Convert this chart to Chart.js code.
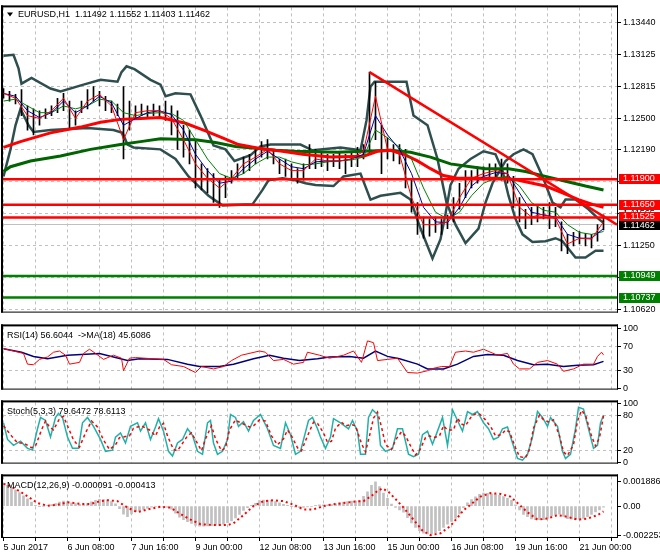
<!DOCTYPE html>
<html>
<head>
<meta charset="utf-8">
<title>EURUSD H1</title>
<script src="https://cdn.jsdelivr.net/npm/chart.js@4.4.1/dist/chart.umd.min.js"></script>
<style>
  body { margin: 0; background: #fff; }
  #wrap { position: relative; width: 660px; height: 560px; overflow: hidden; }
  #wrap canvas { position: absolute; left: 0; }
</style>
</head>
<body>
<div id="wrap">
  <canvas id="mainChart" width="660" height="319" style="top:0"></canvas>
  <canvas id="rsiChart" width="660" height="77" style="top:319px"></canvas>
  <canvas id="stochChart" width="660" height="75" style="top:395px"></canvas>
  <canvas id="macdChart" width="660" height="91" style="top:469px"></canvas>
</div>
<script>
// time axis: one step = one H1 bar, bar 0 = 5 Jun 2017 00:00
const timeLabels = ["5 Jun 2017", "6 Jun 08:00", "7 Jun 16:00", "9 Jun 00:00", "12 Jun 08:00",
  "13 Jun 16:00", "15 Jun 00:00", "16 Jun 08:00", "19 Jun 16:00", "21 Jun 00:00"];
const gridBars = Array.from({length: 20}, (_, k) => k * 16);

const priceTicks = [1.13440, 1.13125, 1.12815, 1.12500, 1.12190, 1.11875, 1.11565, 1.11250, 1.10935, 1.10620];
const redLevels = [1.11900, 1.11650, 1.11525];
const greenLevels = [1.10949, 1.10737];
const lastPrice = 1.11462;

// high / low, one bar every 3 hours
const barHigh = [1.12793,1.12765,1.12736,1.12784,1.12622,1.12594,1.12575,1.12594,1.12622,1.12698,
  1.12746,1.12670,1.12575,1.12670,1.12784,1.12812,1.12765,1.12717,1.12670,1.12641,
  1.12812,1.12670,1.12622,1.12641,1.12622,1.12641,1.12622,1.12670,1.12622,1.12575,
  1.12432,1.12385,1.12290,1.12052,1.12005,1.11957,1.11910,1.11929,1.11986,1.12052,
  1.12119,1.12147,1.12195,1.12271,1.12290,1.12195,1.12100,1.12100,1.12052,1.12005,
  1.12052,1.12242,1.12195,1.12176,1.12147,1.12147,1.12166,1.12147,1.12176,1.12214,
  1.12242,1.12955,1.12860,1.12432,1.12309,1.12242,1.12242,1.12195,1.11910,1.11672,
  1.11530,1.11511,1.11530,1.11511,1.11549,1.11720,1.11862,1.11986,1.11986,1.12024,
  1.12024,1.12052,1.12052,1.12100,1.12052,1.11929,1.11720,1.11606,1.11625,1.11644,
  1.11625,1.11672,1.11625,1.11482,1.11359,1.11378,1.11387,1.11368,1.11359,1.11454,
  1.11552];
const barLow = [1.12698,1.12670,1.12641,1.12527,1.12385,1.12337,1.12432,1.12499,1.12527,1.12556,
  1.12575,1.12404,1.12432,1.12556,1.12594,1.12670,1.12622,1.12575,1.12556,1.12527,
  1.12100,1.12385,1.12499,1.12527,1.12508,1.12527,1.12508,1.12480,1.12337,1.12195,
  1.12119,1.12052,1.11815,1.11796,1.11767,1.11672,1.11625,1.11720,1.11862,1.11910,
  1.11957,1.11986,1.12052,1.12119,1.12100,1.12052,1.11957,1.11929,1.11910,1.11862,
  1.11891,1.12005,1.12005,1.12024,1.11986,1.12024,1.12005,1.11957,1.12024,1.12024,
  1.12100,1.12147,1.12290,1.11957,1.12100,1.12081,1.12052,1.11815,1.11577,1.11359,
  1.11321,1.11340,1.11378,1.11359,1.11416,1.11482,1.11606,1.11720,1.11815,1.11862,
  1.11891,1.11891,1.11910,1.11891,1.11862,1.11625,1.11482,1.11416,1.11454,1.11482,
  1.11511,1.11416,1.11435,1.11197,1.11169,1.11245,1.11264,1.11245,1.11226,1.11292,
  1.11403];

// thin moving averages, one value every 6 bars
const maFast = [1.12746,1.12698,1.12527,1.12499,1.12575,1.12698,1.12499,1.12670,1.12736,1.12622,
  1.12290,1.12556,1.12575,1.12575,1.12499,1.12290,1.12052,1.11910,1.11815,1.11910,
  1.12052,1.12119,1.12195,1.12052,1.11986,1.11986,1.12100,1.12081,1.12081,1.12100,
  1.12176,1.12717,1.12195,1.12147,1.11720,1.11454,1.11454,1.11482,1.11720,1.11910,
  1.11957,1.11986,1.11957,1.11625,1.11530,1.11559,1.11511,1.11264,1.11321,1.11312,1.11482];
const maMid = [1.12746,1.12717,1.12575,1.12508,1.12556,1.12670,1.12556,1.12622,1.12717,1.12651,
  1.12432,1.12499,1.12556,1.12575,1.12537,1.12385,1.12147,1.11986,1.11862,1.11882,
  1.12005,1.12100,1.12176,1.12100,1.12024,1.12005,1.12072,1.12081,1.12081,1.12100,
  1.12147,1.12527,1.12337,1.12195,1.11957,1.11625,1.11482,1.11473,1.11625,1.11834,
  1.11929,1.11967,1.11957,1.11767,1.11577,1.11549,1.11530,1.11359,1.11321,1.11321,1.11416];
const maSlowThin = [1.12670,1.12689,1.12622,1.12556,1.12556,1.12622,1.12594,1.12622,1.12689,1.12670,
  1.12556,1.12527,1.12547,1.12556,1.12547,1.12480,1.12290,1.12100,1.11957,1.11910,
  1.11957,1.12052,1.12119,1.12119,1.12072,1.12043,1.12052,1.12072,1.12081,1.12091,
  1.12119,1.12385,1.12309,1.12214,1.12100,1.11815,1.11577,1.11511,1.11577,1.11739,
  1.11862,1.11910,1.11929,1.11834,1.11672,1.11596,1.11577,1.11454,1.11378,1.11359,1.11387];

// thick moving averages [bar, price]
const maRed = [[0,1.12214],[8.5,1.12271],[23.5,1.12357],[38.5,1.12414],[48.5,1.12461],[58.5,1.12490],
  [68.5,1.12499],[78.5,1.12508],[91,1.12452],[101,1.12376],[109.5,1.12309],[117.5,1.12242],
  [127.5,1.12205],[139.5,1.12176],[149.5,1.12147],[163.5,1.12119],[180,1.12128],[187,1.12176],
  [193.5,1.12186],[200,1.12147],[207,1.12081],[213.5,1.12005],[220,1.11938],[227,1.11910],
  [241,1.11910],[251,1.11910],[257.5,1.11891],[264.5,1.11862],[271,1.11834],[279.5,1.11767],
  [287.5,1.11701],[294.5,1.11654],[300,1.11625]];
const maGreen = [[0,1.11977],[3.5,1.12024],[13.5,1.12081],[28.5,1.12129],[43.5,1.12195],[58.5,1.12242],
  [68.5,1.12271],[78.5,1.12300],[96,1.12290],[106,1.12262],[116,1.12224],[126,1.12205],
  [136,1.12186],[146,1.12176],[167,1.12166],[180,1.12176],[193.5,1.12186],[203.5,1.12166],
  [213.5,1.12119],[223.5,1.12052],[233.5,1.12024],[241,1.12005],[252.5,1.12005],[261,1.11977],
  [271,1.11929],[281,1.11882],[291,1.11834],[300,1.11796]];

// dark band lines [bar, price]
const bandA = [[0,1.13117],[5,1.13126],[7.5,1.12993],[9,1.12841],[14,1.12898],[23.5,1.12794],
  [28.5,1.12765],[40,1.12832],[48.5,1.12879],[57,1.12860],[59,1.12955],[61.5,1.13012],
  [65.5,1.12984],[73.5,1.12879],[78.5,1.12832],[81,1.12717],[86,1.12746],[93.5,1.12736],
  [98.5,1.12527],[105,1.12233],[111,1.12195],[115.5,1.12081],[123.5,1.12138],[128.5,1.12224],
  [133.5,1.12242],[148.5,1.12242],[154.5,1.12186],[168.5,1.12214],[178.5,1.12186],[181.5,1.12480],
  [183.5,1.12812],[185.5,1.12860],[201.5,1.12860],[205,1.12527],[212,1.12432],[217,1.12100],
  [221.5,1.11672],[226,1.11454],[231,1.11274],[237.5,1.11416],[241,1.11672],[244.5,1.11862],
  [251,1.12081],[255,1.12147],[260,1.12195],[264.5,1.12147],[269.5,1.11929],[274.5,1.11672],
  [278.5,1.11625],[281,1.11701],[286,1.11701],[292.5,1.11606],[297.5,1.11511],[300,1.11473]];
const bandB = [[0,1.11929],[3.5,1.12195],[6,1.12432],[8.5,1.12594],[12.5,1.12432],[15,1.12366],
  [23.5,1.12385],[42,1.12404],[55,1.12385],[59.5,1.12357],[62,1.12242],[65,1.12214],
  [78.5,1.12195],[86,1.12100],[92.5,1.11929],[97.5,1.11834],[102.5,1.11739],[109.5,1.11644],
  [124.5,1.11654],[129.5,1.11796],[132.5,1.11891],[139.5,1.11910],[146,1.11891],[151,1.11862],
  [156,1.11844],[165,1.11834],[170,1.11929],[178.5,1.11957],[183.5,1.11701],[188.5,1.11739],
  [198.5,1.11767],[203.5,1.11701],[208.5,1.11416],[214.5,1.11122],[218.5,1.11312],[221,1.11559],
  [223.5,1.11844],[227.5,1.12005],[233.5,1.12100],[240,1.12176],[246,1.12147],[249.5,1.11986],
  [252.5,1.11739],[256,1.11511],[259.5,1.11359],[264.5,1.11283],[271,1.11292],[276,1.11321],
  [279.5,1.11292],[286,1.11131],[291,1.11131],[296,1.11197],[300,1.11197]];

const trendLine = [[183, 1.12955], [306.75, 1.11454]];

// RSI(14) and its MA(18) [bar, value]
const rsiLine = [[0,67],[5,63],[10,59],[12,41],[15,40],[18,49],[22,53],[25,61],[28,63],[31,56],[33,41],
  [38,44],[40,59],[43,66],[46,59],[50,49],[55,56],[59,51],[60,30],[63,51],[66,52],[75,50],[80,49],
  [84,40],[90,37],[96,27],[99,37],[105,33],[110,37],[114,47],[119,56],[128,63],[131,61],[135,47],
  [140,49],[145,41],[150,44],[152,61],[158,56],[163,51],[170,56],[175,63],[179,44],[182,80],
  [185,77],[187,47],[192,49],[197,51],[202,27],[207,26],[212,30],[215,34],[219,37],[223,37],
  [226,61],[231,63],[235,61],[240,66],[247,56],[252,59],[255,41],[258,33],[263,33],[267,44],
  [272,47],[277,41],[280,29],[285,33],[290,41],[295,41],[297,54],[299,61],[300,56.6]];
const rsiMa = [[0,67],[9,61],[15,54],[22,50],[32,56],[48,59],[62,47],[68,50],[82,49],[92,41],[98,37],
  [108,37],[115,41],[125,50],[133,56],[140,51],[148,47],[157,50],[163,53],[173,54],[180,51],
  [186,63],[192,54],[198,50],[207,41],[212,33],[220,33],[227,41],[235,54],[242,57],[250,56],
  [257,47],[265,40],[272,41],[280,37],[287,39],[295,40],[300,45.6]];

// Stochastic(5,3,3) [bar, value]
const stochK = [[0,67],[2,39],[5,29],[8.5,36],[12,24],[14.5,21],[17,57],[18.5,76],[21,71],[23.5,43],
  [26,76],[27.5,83],[29.5,76],[32,43],[34.5,24],[37.5,24],[39.5,67],[42,76],[45,61],[48.5,39],
  [51,19],[54.5,21],[56,43],[58.5,50],[61,33],[63.5,61],[67,67],[68.5,53],[71,67],[73.5,39],
  [76,60],[77.5,74],[80,53],[82.5,19],[84.5,11],[87,33],[89.5,39],[92,57],[94.5,46],[97,19],
  [99.5,14],[102,67],[103.5,71],[105,33],[107,14],[109.5,19],[112,39],[113.5,81],[116,76],
  [117.5,61],[120,69],[122.5,53],[125,71],[128.5,81],[132,57],[135,29],[138.5,24],[141,67],
  [143.5,47],[146,14],[148.5,19],[152.5,71],[154.5,76],[157,57],[158.5,43],[161,24],[163.5,43],
  [165,74],[168.5,67],[172.5,57],[174.5,71],[177,53],[178.5,14],[181,14],[182.5,76],[184.5,89],
  [187,81],[188.5,29],[191,19],[194.5,24],[197,57],[199.5,57],[202.5,14],[205,10],[207.5,14],
  [209.5,47],[212,53],[214.5,31],[217,53],[219.5,76],[222,29],[224.5,89],[227,71],[229.5,53],
  [232,86],[234.5,81],[237,86],[240,67],[242.5,57],[245,39],[247.5,43],[249.5,57],[252,60],
  [254.5,33],[257,7],[259.5,4],[262,14],[264.5,43],[267,86],[269.5,76],[272,61],[273.5,76],
  [277,61],[279.5,19],[281,7],[283.5,14],[286,57],[287.5,93],[290,90],[292.5,57],[295,24],
  [297,29],[298.5,67],[300,79.6]];
const stochD = [[0,62],[4,45],[7,33],[10,33],[14,25],[16,28],[19,55],[21,70],[23,60],[25,55],[28,74],
  [30,78],[32,62],[35,38],[38,26],[41,50],[44,70],[47,60],[50,38],[53,22],[56,30],[58,42],[61,44],
  [63,45],[65,58],[69,62],[71,58],[73,55],[76,45],[78,60],[80,66],[82,45],[85,22],[87,20],[89,30],
  [92,45],[94,50],[97,32],[99,20],[101,40],[104,62],[106,40],[109,20],[111,25],[113,55],[116,72],
  [118,68],[120,65],[123,60],[125,62],[128,72],[131,70],[134,45],[137,30],[140,40],[142,55],
  [144,45],[147,25],[149,20],[152,45],[155,68],[157,66],[160,50],[162,34],[164,36],[166,58],
  [169,68],[171,62],[174,64],[176,62],[179,32],[181,18],[183,45],[185,75],[187,85],[189,60],
  [191,30],[194,22],[196,38],[199,52],[201,45],[204,25],[206,13],[208,20],[211,42],[213,45],
  [215,42],[218,45],[220,62],[222,55],[225,55],[227,75],[229,65],[231,62],[234,78],[236,82],
  [238,82],[241,72],[244,58],[246,45],[249,47],[251,55],[253,52],[256,25],[258,10],[261,8],
  [263,22],[265,58],[268,80],[270,72],[273,68],[275,72],[278,45],[280,18],[282,12],[285,30],
  [287,70],[289,88],[291,80],[294,45],[296,28],[298,42],[300,78.6]];

// MACD(12,26,9): main line every 2 bars, signal [bar, value]
const macdHist = [0.0017,0.0016,0.00145,0.00125,0.00105,0.0008,0.00055,0.0003,0.00005,-0.00003,
  -0.00005,0.00003,0.00012,0.0002,0.0003,0.00038,0.00033,0.00025,0.0002,0.00014,
  0.0001,0.0002,0.00033,0.00045,0.00052,0.0005,0.00044,0.00035,0.00018,-0.0002,
  -0.00062,-0.00083,-0.0006,-0.00044,-0.00035,-0.00026,-0.00018,-0.00008,-0.00005,-0.00006,
  -0.00008,-0.00011,-0.00025,-0.00055,-0.00085,-0.00105,-0.0012,-0.00135,-0.0015,-0.00155,
  -0.00155,-0.00154,-0.00152,-0.0015,-0.00147,-0.0014,-0.00128,-0.00115,-0.00092,-0.00065,
  -0.00033,-0.00012,0.00005,0.00022,0.00042,0.00046,0.00045,0.00044,0.00035,0.00024,
  0.00014,0.00005,-0.00002,-0.00008,-0.00012,-0.0001,-0.00006,-0.00004,0.00005,0.0001,
  0.0001,0.0001,0.00012,0.00018,0.00025,0.0003,0.00035,0.00038,0.00038,0.0004,
  0.00075,0.0011,0.0016,0.00187,0.0015,0.001,0.00059,0.00015,-0.0001,-0.0003,
  -0.00048,-0.0009,-0.0013,-0.00165,-0.0019,-0.0021,-0.00216,-0.00218,-0.00208,-0.0019,
  -0.00165,-0.0014,-0.00118,-0.00095,-0.0006,-0.00012,0.00025,0.0005,0.00072,0.0009,
  0.001,0.00098,0.00095,0.0009,0.00082,0.00073,0.0006,0.00045,0.0001,-0.0003,
  -0.00065,-0.00083,-0.001,-0.00105,-0.00105,-0.00105,-0.00095,-0.00078,-0.00066,-0.00062,
  -0.0008,-0.00097,-0.00102,-0.00105,-0.00103,-0.00095,-0.00083,-0.00065,-0.00045,-0.0003,
  -0.000091];
const macdSignal = [[0,0.0017],[2,0.00166],[8.5,0.0011],[13.5,0.0006],[17,0.00023],[22,0.00002],
  [27,0.0001],[32,0.0003],[38.5,0.00016],[43.5,0.00016],[48.5,0.00038],[52,0.00045],[57,0.00038],
  [62,-0.00012],[67,-0.00048],[72,-0.00026],[78.5,-0.00005],[83.5,-0.00012],[88.5,-0.00062],
  [93.5,-0.00105],[98.5,-0.0014],[105,-0.00147],[112,-0.00147],[115,-0.00133],[120,-0.0007],
  [125,0],[130,0.00038],[135,0.00045],[140,0.00038],[145,0.0001],[150,-0.00026],[155,-0.00026],
  [160,0],[163.5,0.0001],[170,0.00023],[177,0.00038],[180,0.00038],[183.5,0.00073],[187,0.00116],
  [189.5,0.00137],[192.5,0.0011],[197,0.00038],[200,-0.00012],[205,-0.00105],[209.5,-0.0019],
  [213.5,-0.00225],[218.5,-0.0021],[223.5,-0.00154],[230,-0.00033],[233.5,0.0001],[238.5,0.00073],
  [243.5,0.001],[248.5,0.00094],[253.5,0.00073],[257,0.00023],[262,-0.00048],[267,-0.00105],
  [272,-0.00097],[277,-0.0007],[282,-0.00083],[287,-0.00105],[292,-0.00097],[297,-0.0007],
  [300,-0.000413]];
const macdTicks = [0.001886, 0, -0.002253];

const FONT_FAMILY = '"Liberation Sans", Arial, sans-serif';
const FONT = '9px ' + FONT_FAMILY;
Chart.defaults.font.family = FONT_FAMILY;
Chart.defaults.font.size = 9;
Chart.defaults.color = '#000';

const toXY = pairs => pairs.map(p => ({x: p[0], y: p[1]}));
const onGrid = (step, vals) => vals.map((v, i) => ({x: i * step, y: v}));

function lineSet(data, color, width, dash) {
  return {type: 'line', data: data, borderColor: color, borderWidth: width,
    borderDash: dash || [], pointRadius: 0, fill: false, tension: 0};
}

function xScale(withLabels) {
  return {
    type: 'linear', min: -0.25, max: 306.75, offset: false,
    afterBuildTicks: s => { s.ticks = gridBars.map(v => ({value: v})); },
    afterFit: s => { s.height = withLabels ? 22 : 0; },
    grid: {color: '#c0c0c0', offset: false, drawTicks: withLabels, tickLength: 4, tickColor: '#000'},
    border: {display: false, dash: [3, 3]},
    ticks: {display: withLabels, autoSkip: false, maxRotation: 0, align: 'start', padding: 1,
      callback: v => (v % 32 === 0 ? timeLabels[v / 32] : '')}
  };
}

function yScale(min, max, ticks, fmt, gridAt) {
  return {
    position: 'right', min: min, max: max,
    afterBuildTicks: s => { s.ticks = ticks.map(v => ({value: v})); },
    afterFit: s => { s.width = 43; },
    grid: {color: c => (gridAt(c.tick.value) ? '#c0c0c0' : 'rgba(0,0,0,0)'), tickColor: '#000', tickLength: 4},
    border: {display: false, dash: [3, 3]},
    ticks: {padding: 2, callback: fmt}
  };
}

// black frame around each panel and the indicator caption
const frame = {
  id: 'frame',
  afterDraw(chart, args, opts) {
    const {ctx, chartArea: a} = chart;
    ctx.save();
    ctx.fillStyle = '#000';
    ctx.fillRect(a.left - 2, a.top - 2, 2, a.bottom - a.top + 3);
    ctx.fillRect(a.left - 2, a.top - 2, a.right - a.left + 3, 2);
    ctx.fillRect(a.left - 2, a.bottom, a.right - a.left + 3, 1);
    ctx.fillRect(a.right, a.top - 2, 1, a.bottom - a.top + 3);
    ctx.font = FONT;
    ctx.textBaseline = 'middle';
    if (opts.label) ctx.fillText(opts.label, a.left + 4, a.top + 9);
    if (opts.title) {
      ctx.beginPath();
      ctx.moveTo(a.left + 4, a.top + 5);
      ctx.lineTo(a.left + 10, a.top + 5);
      ctx.lineTo(a.left + 7, a.top + 9);
      ctx.closePath();
      ctx.fill();
      ctx.fillText(opts.title, a.left + 15, a.top + 7);
    }
    ctx.restore();
  }
};

// horizontal price levels and their boxes on the price axis
const levels = {
  id: 'levels',
  beforeDatasetsDraw(chart) {
    const {ctx, chartArea: a, scales: {y}} = chart;
    const py = Math.round(y.getPixelForValue(lastPrice)) + 0.5;
    ctx.save();
    ctx.strokeStyle = '#c0c0c0';
    ctx.lineWidth = 1;
    ctx.beginPath(); ctx.moveTo(a.left, py); ctx.lineTo(a.right, py); ctx.stroke();
    ctx.restore();
  },
  afterDatasetsDraw(chart) {
    const {ctx, chartArea: a, scales: {y}} = chart;
    ctx.save();
    ctx.lineWidth = 2.5;
    const draw = (v, c) => {
      const py = y.getPixelForValue(v);
      ctx.strokeStyle = c;
      ctx.beginPath(); ctx.moveTo(a.left, py); ctx.lineTo(a.right, py); ctx.stroke();
    };
    redLevels.forEach(v => draw(v, '#ff0000'));
    greenLevels.forEach(v => draw(v, '#008000'));
    ctx.restore();
  },
  afterDraw(chart) {
    const {ctx, chartArea: a, scales: {y}} = chart;
    ctx.save();
    ctx.font = FONT;
    ctx.textBaseline = 'middle';
    const box = (v, c, up, down) => {
      const py = Math.round(y.getPixelForValue(v));
      ctx.fillStyle = c;
      ctx.fillRect(a.right + 2, py - up, 41, up + down);
      ctx.fillStyle = '#fff';
      ctx.fillText(v.toFixed(5), a.right + 6, py + (down - up) / 2);
    };
    redLevels.forEach(v => box(v, '#ff0000', 5, 5));
    box(lastPrice, '#000000', 3, 6);
    greenLevels.forEach(v => box(v, '#008000', 5, 5));
    ctx.restore();
  }
};

const baseOptions = (padding, scales, frameOpts) => ({
  responsive: false, animation: false, events: [],
  layout: {padding: padding},
  plugins: {legend: {display: false}, tooltip: {enabled: false}, frame: frameOpts},
  scales: scales
});

new Chart(document.getElementById('mainChart'), {
  type: 'line',
  data: {datasets: [
    lineSet(toXY(trendLine), '#ff0000', 2.5),
    lineSet(onGrid(6, maFast), '#ff0000', 1),
    lineSet(onGrid(6, maMid), '#0000a0', 1),
    lineSet(onGrid(6, maSlowThin), '#008000', 1),
    lineSet(toXY(maRed), '#ff0000', 3),
    lineSet(toXY(maGreen), '#006400', 3),
    {type: 'bar', data: barLow.map((lo, i) => ({x: i * 3, y: [lo, barHigh[i]]})),
      backgroundColor: '#000', barThickness: 1, grouped: false},
    lineSet(toXY(bandA), '#2f4f4f', 2.5),
    lineSet(toXY(bandB), '#2f4f4f', 2.5)
  ]},
  options: baseOptions({left: 3, right: 0, top: 3, bottom: 1}, {
    x: xScale(false),
    y: yScale(1.10599, 1.135915, priceTicks, v => v.toFixed(5), () => true)
  }, {title: 'EURUSD,H1  1.11492 1.11552 1.11403 1.11462'}),
  plugins: [levels, frame]
});

new Chart(document.getElementById('rsiChart'), {
  type: 'line',
  data: {datasets: [
    lineSet(toXY(rsiLine), '#ff0000', 1),
    lineSet(toXY(rsiMa), '#000080', 1.5)
  ]},
  options: baseOptions({left: 3, right: 0, top: 2, bottom: 2}, {
    x: xScale(false),
    y: yScale(0, 104.3, [100, 70, 30, 0], v => String(v), v => v === 70 || v === 30)
  }, {label: 'RSI(14) 56.6044  ->MA(18) 45.6086'}),
  plugins: [frame]
});

new Chart(document.getElementById('stochChart'), {
  type: 'line',
  data: {datasets: [
    lineSet(toXY(stochD), '#ff0000', 1.5, [3, 3]),
    lineSet(toXY(stochK), '#20b2aa', 1.5)
  ]},
  options: baseOptions({left: 3, right: 0, top: 2, bottom: 2}, {
    x: xScale(false),
    y: yScale(0, 101.4, [100, 80, 20, 0], v => String(v), v => v === 80 || v === 20)
  }, {label: 'Stoch(5,3,3) 79.6472 78.6113'}),
  plugins: [frame]
});

new Chart(document.getElementById('macdChart'), {
  type: 'line',
  data: {datasets: [
    lineSet(toXY(macdSignal), '#ff0000', 2, [2, 3]),
    {type: 'bar', data: onGrid(2, macdHist), backgroundColor: '#c0c0c0', barThickness: 2, grouped: false}
  ]},
  options: baseOptions({left: 3, right: 0, top: 2, bottom: 1}, {
    x: xScale(true),
    y: yScale(-0.002393, 0.002293, macdTicks, v => (v === 0 ? '0.00' : v.toFixed(6)), () => false)
  }, {label: 'MACD(12,26,9) -0.000091 -0.000413'}),
  plugins: [frame]
});
</script>
</body>
</html>
